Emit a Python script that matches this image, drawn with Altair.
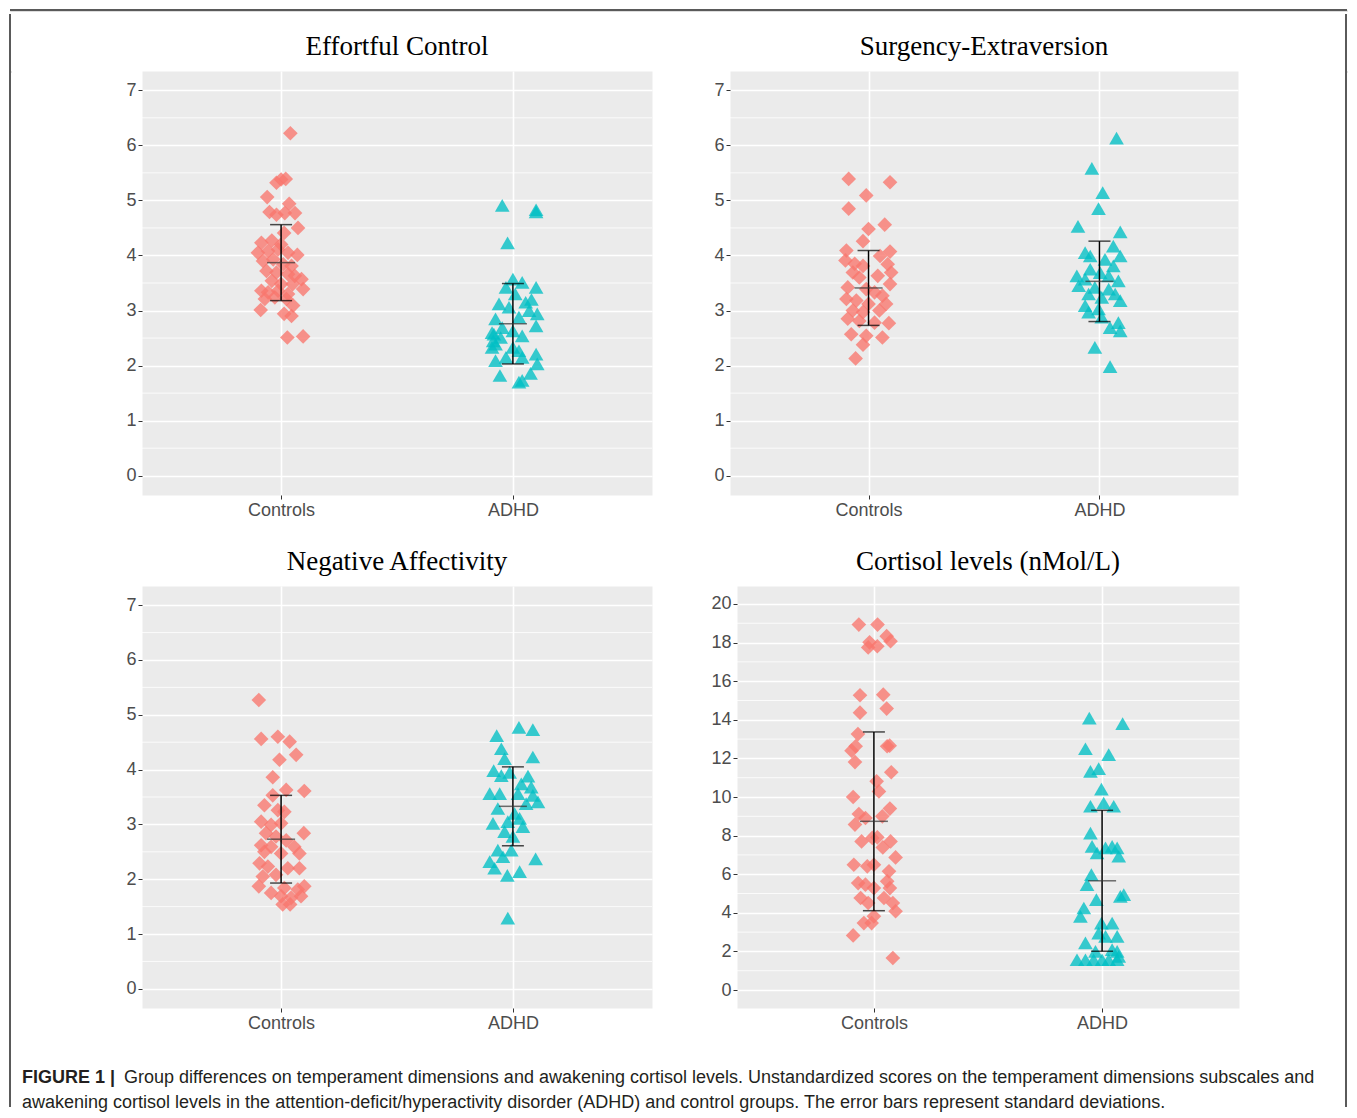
import altair as alt
import pandas as pd

GROUPS = ["Controls", "ADHD"]
COLORS = ["#F8766D", "#00BFC4"]
SHAPES = ["diamond", "triangle-up"]

TITLES = ["Effortful Control", "Surgency-Extraversion", "Negative Affectivity", "Cortisol levels (nMol/L)"]

SCALE_TICKS = [0, 1, 2, 3, 4, 5, 6, 7]
CORT_TICKS = [0, 2, 4, 6, 8, 10, 12, 14, 16, 18, 20]

# ---------------- Effortful Control ----------------
ec_ctrl = [6.22, 5.32, 5.38, 5.39, 5.06, 4.94, 4.79, 4.74, 4.77, 4.77, 4.50, 4.41,
           4.23, 4.27, 4.20, 4.05, 4.08, 4.11, 4.05, 4.01, 3.90, 3.93, 3.84, 3.81, 3.72, 3.69,
           3.66, 3.63, 3.57, 3.54, 3.48, 3.48, 3.39, 3.36, 3.33, 3.36, 3.30, 3.21, 3.24, 3.21,
           3.09, 3.01, 2.94, 2.90, 2.51, 2.53]
ec_ctrl_jit = [0.04, -0.02, 0.0, 0.02, -0.06, 0.035, -0.05, -0.02, 0.016, 0.06, 0.073, 0.013,
               -0.085, -0.04, 0.0, -0.10, -0.056, -0.013, 0.03, 0.07, -0.078, -0.034, 0.009, 0.045, -0.063, -0.02,
               0.03, 0.059, 0.088, -0.04, 0.0, 0.05, 0.095, -0.085, -0.056, -0.013, 0.03, -0.07, -0.027, 0.023,
               0.052, -0.088, 0.013, 0.045, 0.027, 0.095]
ec_adhd = [4.91, 4.83, 4.79, 4.23, 3.57, 3.51, 3.42, 3.42, 3.30, 3.12, 3.15, 3.06, 3.00, 2.94,
           2.85, 2.88, 2.69, 2.63, 2.72, 2.57, 2.51, 2.54, 2.39, 2.33, 2.27, 2.21, 2.15, 2.15,
           2.03, 2.09, 1.86, 1.82, 1.70, 1.73, 2.33, 2.45, 2.60, 3.20]
ec_adhd_jit = [-0.046, 0.10, 0.10, -0.023, 0.0, 0.04, 0.10, -0.03, 0.01, -0.06, 0.055, -0.017, 0.07, 0.105,
               -0.075, 0.026, -0.046, 0.0, 0.10, -0.082, -0.053, 0.04, -0.075, 0.0, 0.026, 0.10, 0.04, -0.03,
               0.105, -0.075, 0.076, -0.056, 0.026, 0.04, -0.09, -0.085, -0.09, 0.08]
ec_mean = [3.87, 2.76]
ec_sd = [0.69, 0.73]

# ---------------- Surgency-Extraversion ----------------
se_ctrl = [5.39, 5.33, 5.09, 4.85, 4.56, 4.48, 4.26, 4.09, 4.07, 3.91, 3.85, 3.81, 3.99, 3.84,
           3.69, 3.69, 3.63, 3.60, 3.48, 3.42, 3.39, 3.33, 3.27, 3.21, 3.18, 3.12, 3.12, 3.00,
           2.97, 3.00, 2.85, 2.81, 2.78, 2.77, 2.57, 2.54, 2.51, 2.38, 2.13]
se_ctrl_jit = [-0.086, 0.093, -0.01, -0.086, 0.07, 0.0, -0.024, -0.096, 0.093, -0.10, -0.06, -0.024, 0.05, 0.083,
               -0.068, 0.098, 0.04, -0.04, 0.093, -0.09, -0.01, 0.026, 0.06, -0.096, -0.053, 0.0, 0.076, -0.068,
               -0.024, 0.047, -0.09, -0.04, 0.026, 0.088, -0.075, -0.01, 0.06, -0.024, -0.056]
se_adhd = [6.13, 5.58, 5.14, 4.85, 4.53, 4.43, 4.17, 4.05, 3.99, 3.99, 3.93, 3.81, 3.75, 3.69,
           3.63, 3.63, 3.57, 3.54, 3.45, 3.42, 3.39, 3.30, 3.24, 3.30, 3.18, 3.09, 3.03, 2.97,
           2.88, 2.78, 2.69, 2.63, 2.33, 1.98]
se_adhd_jit = [0.074, -0.033, 0.014, -0.004, -0.093, 0.09, 0.06, -0.062, -0.04, 0.09, 0.024, 0.06, -0.04, 0.003,
               -0.098, 0.04, -0.062, 0.082, -0.09, -0.02, 0.04, -0.047, 0.01, 0.068, 0.09, -0.062, -0.004, -0.047,
               0.01, 0.082, 0.046, 0.09, -0.02, 0.046]
se_mean = [3.41, 3.53]
se_sd = [0.68, 0.73]

# ---------------- Negative Affectivity ----------------
na_ctrl = [5.27, 4.56, 4.60, 4.51, 4.27, 4.18, 3.86, 3.63, 3.61, 3.53, 3.35, 3.26, 3.23, 3.05,
           2.99, 3.02, 2.84, 2.84, 2.78, 2.71, 2.62, 2.59, 2.59, 2.47, 2.50, 2.47, 2.29, 2.23,
           2.20, 2.20, 2.05, 2.08, 1.87, 1.75, 1.84, 1.81, 1.87, 1.69, 1.66, 1.69, 1.54, 1.54]
na_ctrl_jit = [-0.096, -0.086, -0.014, 0.037, 0.065, -0.007, -0.036, 0.022, 0.10, -0.036, -0.072, -0.014, 0.014, -0.086,
               -0.043, 0.0, 0.098, -0.065, -0.022, 0.022, -0.086, -0.043, 0.057, 0.079, -0.072, 0.0, -0.093, -0.057,
               0.029, 0.079, -0.079, -0.022, -0.096, -0.043, 0.014, 0.072, 0.10, 0.0, 0.043, 0.086, 0.007, 0.039]
na_adhd = [4.62, 4.77, 4.73, 4.38, 4.20, 4.23, 3.98, 3.89, 3.95, 3.88, 3.74, 3.68, 3.56, 3.56,
           3.56, 3.53, 3.41, 3.38, 3.29, 3.20, 3.11, 3.02, 3.05, 2.96, 2.87, 2.78, 2.53, 2.53,
           2.41, 2.32, 2.37, 2.20, 2.07, 2.14, 1.29]
na_adhd_jit = [-0.07, 0.026, 0.086, -0.05, -0.036, 0.086, -0.083, -0.05, -0.014, 0.065, 0.036, 0.079, -0.10, -0.057,
               0.022, 0.086, 0.108, 0.057, -0.065, 0.007, 0.029, -0.086, -0.022, 0.043, -0.036, 0.0, -0.065, -0.007,
               -0.043, -0.10, 0.098, -0.079, -0.024, 0.029, -0.022]
na_mean = [2.73, 3.33]
na_sd = [0.80, 0.72]

# ---------------- Cortisol ----------------
co_ctrl = [18.93, 18.93, 18.33, 18.07, 18.01, 17.75, 17.81, 15.27, 15.30, 14.37, 14.58, 13.26, 12.63,
           12.40, 12.63, 12.66, 11.81, 11.28, 10.81, 10.29, 10.00, 9.40, 9.12, 8.57, 8.91, 9.00, 7.88,
           7.91, 7.70, 7.70, 7.39, 6.87, 6.49, 6.41, 6.49, 6.15, 5.54, 5.46, 5.28, 5.63, 5.28, 4.77,
           4.51, 4.77, 4.51, 4.08, 3.82, 3.47, 3.47, 2.83, 1.66]
co_ctrl_jit = [-0.066, 0.016, 0.056, 0.073, -0.019, -0.025, 0.015, -0.061, 0.041, -0.061, 0.056, -0.07, -0.08,
               -0.098, 0.058, 0.069, -0.083, 0.076, 0.012, 0.022, -0.091, 0.07, -0.066, -0.083, -0.037, 0.037, -0.007,
               0.015, -0.054, 0.073, 0.039, 0.095, -0.088, -0.029, 0.0, 0.066, -0.069, -0.037, 0.0, 0.058, 0.07, -0.058,
               -0.025, 0.044, 0.083, 0.095, 0.0, -0.044, -0.01, -0.091, 0.083]
co_adhd = [14.09, 13.80, 12.50, 12.19, 11.33, 11.47, 10.41, 9.52, 9.69, 9.52, 8.13, 7.44, 7.10, 7.36,
           7.44, 7.36, 6.93, 5.98, 5.46, 4.68, 4.85, 4.94, 4.25, 3.82, 3.47, 3.47, 2.95, 2.78, 2.78,
           2.44, 2.00, 2.09, 2.00, 1.57, 1.57, 1.57, 1.57, 1.57, 1.57, 1.74]
co_adhd_jit = [-0.056, 0.09, -0.073, 0.029, -0.051, -0.015, -0.003, -0.051, 0.007, 0.051, -0.051, -0.044, -0.022, 0.015,
               0.044, 0.066, 0.073, -0.047, -0.066, -0.025, 0.08, 0.095, -0.08, -0.095, -0.003, 0.044, -0.015, 0.015, 0.066,
               -0.073, -0.029, 0.044, 0.066, -0.11, -0.073, -0.037, 0.0, 0.029, 0.066, 0.073]
co_mean = [8.74, 5.66]
co_sd = [4.63, 3.65]

CAPTION_BOLD = "FIGURE 1 |"
CAPTION_LINE1 = ("Group differences on temperament dimensions and awakening cortisol levels. "
                 "Unstandardized scores on the temperament dimensions subscales and")
CAPTION_LINE2 = ("awakening cortisol levels in the attention-deficit/hyperactivity disorder (ADHD) "
                 "and control groups. The error bars represent standard deviations.")

LABEL_FONT = "Liberation Sans"
TITLE_FONT = "Liberation Serif"
FRAME_COLOR = "#5A5A5A"


def panel(title, ctrl, ctrl_j, adhd, adhd_j, means, sds, ticks, ydom, width, height, extent):
    pts = pd.DataFrame({
        "group": [GROUPS[0]] * len(ctrl) + [GROUPS[1]] * len(adhd),
        "gidx": [1] * len(ctrl) + [2] * len(adhd),
        "jit": list(ctrl_j) + list(adhd_j),
        "y": list(ctrl) + list(adhd),
    })
    pts["x"] = pts["gidx"] + pts["jit"]
    stats = pd.DataFrame({"group": GROUPS, "x": [1, 2], "mean": means, "sd": sds})
    stats["lo"] = stats["mean"] - stats["sd"]
    stats["hi"] = stats["mean"] + stats["sd"]
    step = ticks[1] - ticks[0]
    minor = pd.DataFrame({"y": [t + step / 2 for t in ticks[:-1]]})

    xscale = alt.Scale(domain=[0.4, 2.6], nice=False, zero=False)
    yscale = alt.Scale(domain=ydom, nice=False, zero=False)
    lab = "['" + GROUPS[0] + "','" + GROUPS[1] + "'][datum.value - 1]"
    xaxis = alt.Axis(values=[1, 2], labelExpr=lab, title=None, grid=True, gridColor="white",
                     gridWidth=1.6, domain=False, tickColor="#333333", tickSize=4,
                     labelFontSize=18, labelColor="#4D4D4D", labelFont=LABEL_FONT, labelPadding=2)
    yaxis = alt.Axis(values=ticks, title=None, grid=True, gridColor="white", gridWidth=1.6,
                     domain=False, tickColor="#333333", tickSize=4, labelFontSize=18,
                     labelColor="#4D4D4D", labelFont=LABEL_FONT, labelPadding=2,
                     minExtent=extent, maxExtent=extent)

    def X(f):
        return alt.X(f, type="quantitative", scale=xscale, axis=xaxis)

    def Y(f):
        return alt.Y(f, type="quantitative", scale=yscale, axis=yaxis)

    grid = alt.Chart(minor).mark_rule(color="white", strokeWidth=0.8).encode(y=Y("y"))
    points = alt.Chart(pts).mark_point(filled=True, opacity=0.78, size=215, strokeWidth=0).encode(
        x=X("x"), y=Y("y"),
        color=alt.Color("group:N", scale=alt.Scale(domain=GROUPS, range=COLORS), legend=None),
        shape=alt.Shape("group:N", scale=alt.Scale(domain=GROUPS, range=SHAPES), legend=None),
    )
    bar = alt.Chart(stats).mark_rule(color="black", strokeWidth=1.5).encode(
        x=X("x"), y=Y("lo"), y2="hi")
    cap_lo = alt.Chart(stats).mark_tick(orient="horizontal", size=22, thickness=1.5, color="black").encode(
        x=X("x"), y=Y("lo"))
    cap_hi = alt.Chart(stats).mark_tick(orient="horizontal", size=22, thickness=1.5, color="black").encode(
        x=X("x"), y=Y("hi"))
    mid = alt.Chart(stats).mark_tick(orient="horizontal", size=28, thickness=1.5, color="#333333").encode(
        x=X("x"), y=Y("mean"))
    return alt.layer(grid, points, bar, cap_lo, cap_hi, mid).properties(
        width=width, height=height,
        title=alt.TitleParams(title, font=TITLE_FONT, fontSize=27, fontWeight="normal", color="black",
                              anchor="middle", frame="group", offset=10),
        view=alt.ViewBackground(fill="#EBEBEB", stroke="transparent"),
    )


p1 = panel(TITLES[0], ec_ctrl, ec_ctrl_jit, ec_adhd, ec_adhd_jit, ec_mean, ec_sd,
           SCALE_TICKS, [-0.35, 7.35], 510, 424, 125)
p2 = panel(TITLES[1], se_ctrl, se_ctrl_jit, se_adhd, se_adhd_jit, se_mean, se_sd,
           SCALE_TICKS, [-0.35, 7.35], 508, 424, 20)
p3 = panel(TITLES[2], na_ctrl, na_ctrl_jit, na_adhd, na_adhd_jit, na_mean, na_sd,
           SCALE_TICKS, [-0.35, 7.35], 510, 422, 125)
p4 = panel(TITLES[3], co_ctrl, co_ctrl_jit, co_adhd, co_adhd_jit, co_mean, co_sd,
           CORT_TICKS, [-0.93, 20.93], 502, 422, 27)

cap_font = dict(font=LABEL_FONT, fontSize=18, align="left", baseline="middle", color="#231F20")
cap_bold = alt.Chart(pd.DataFrame({"t": [CAPTION_BOLD]})).mark_text(fontWeight="bold", **cap_font).encode(
    text="t:N", x=alt.value(-120), y=alt.value(16))
cap_l1 = alt.Chart(pd.DataFrame({"t": [CAPTION_LINE1]})).mark_text(**cap_font).encode(
    text="t:N", x=alt.value(-18), y=alt.value(16))
cap_l2 = alt.Chart(pd.DataFrame({"t": [CAPTION_LINE2]})).mark_text(**cap_font).encode(
    text="t:N", x=alt.value(-120), y=alt.value(41))
caption = alt.layer(cap_bold, cap_l1, cap_l2).properties(
    width=1188, height=40, view=alt.ViewBackground(fill="white", stroke="transparent"))

# thin frame around the whole figure
frame_df = pd.DataFrame({"f": [0]})
top_line = alt.Chart(frame_df).mark_rule(color=FRAME_COLOR, strokeWidth=2).encode(
    y=alt.value(0)).properties(width=1337, height=1)
left_line = alt.Chart(frame_df).mark_rule(color=FRAME_COLOR, strokeWidth=2).encode(
    x=alt.value(0), y=alt.value(-57), y2=alt.value(1036)).properties(width=1, height=1)
right_line = alt.Chart(frame_df).mark_rule(color=FRAME_COLOR, strokeWidth=2).encode(
    x=alt.value(0), y=alt.value(-57), y2=alt.value(1036)).properties(width=1, height=1)

row1 = alt.hconcat(p1, p2, spacing=56)
row2 = alt.hconcat(p3, p4, spacing=56)
panels = alt.vconcat(row1, row2, spacing=27)
main = alt.vconcat(panels, caption, spacing=28)
middle = alt.hconcat(alt.hconcat(left_line, main, spacing=4), right_line, spacing=13)
chart = alt.vconcat(top_line, middle, spacing=0).properties(
    padding={"left": 0, "top": 0, "right": 0, "bottom": 0}
).configure_view(stroke="transparent").configure(background="white")

chart.save("out.html", embed_options={"renderer": "svg", "actions": False})
